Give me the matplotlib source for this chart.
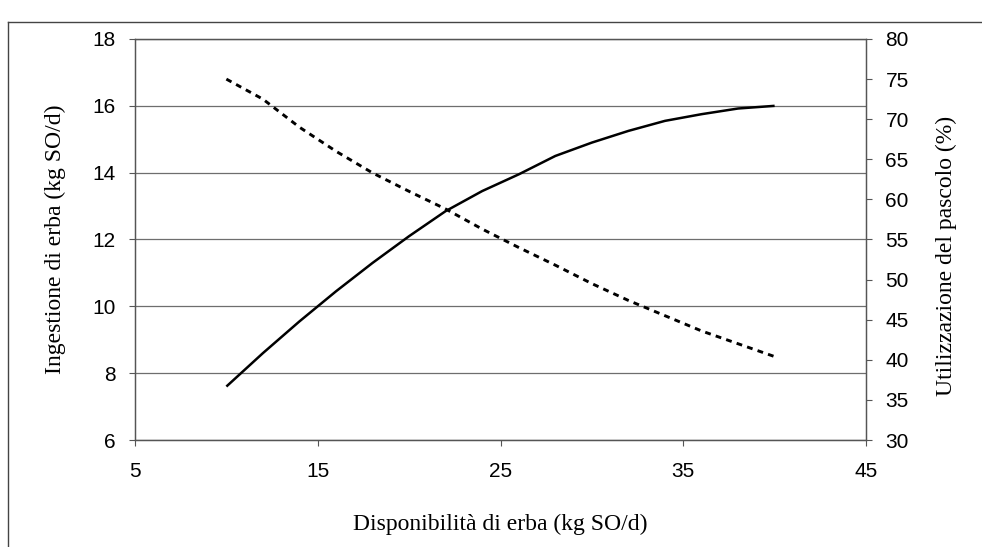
import matplotlib
matplotlib.use("Agg")
import matplotlib.pyplot as plt
from matplotlib.lines import Line2D

# Disponibilità di erba (kg SO/d)
disponibilita = [10, 12, 14, 16, 18, 20, 22, 24, 26, 28, 30, 32, 34, 36, 38, 40]
# Ingestione di erba (kg SO/d) - asse sinistro
ingestione = [7.6, 8.6, 9.55, 10.45, 11.3, 12.1, 12.85, 13.45, 13.95, 14.5,
              14.9, 15.25, 15.55, 15.75, 15.92, 16.0]
# Utilizzazione del pascolo (%) - asse destro
utilizzazione = [75.0, 72.5, 69.0, 66.0, 63.3, 61.0, 58.8, 56.3, 54.0, 51.8,
                 49.5, 47.4, 45.5, 43.6, 42.0, 40.4]

x_ticks = [5, 15, 25, 35, 45]
y_left_ticks = [6, 8, 10, 12, 14, 16, 18]
y_right_ticks = [30, 35, 40, 45, 50, 55, 60, 65, 70, 75, 80]

plt.rcParams["font.family"] = ["Liberation Sans", "DejaVu Sans"]
LABEL_FONT = ["Liberation Serif", "DejaVu Serif"]

fig = plt.figure(figsize=(9.82, 5.47), dpi=100)
ax = fig.add_axes([135 / 982, 1 - 440 / 547, 731 / 982, 401 / 547])
ax2 = ax.twinx()

# griglia orizzontale (asse sinistro)
ax.yaxis.grid(True, color="#6e6e6e", linewidth=0.9)
ax.set_axisbelow(True)

ax.plot(disponibilita, ingestione, color="black", linewidth=1.8,
        solid_capstyle="butt")
ax2.plot(disponibilita, utilizzazione, color="black", linewidth=2.1,
         linestyle=(0, (2.0, 1.8)), dash_capstyle="butt")

ax.set_xlim(5, 45)
ax.set_ylim(6, 18)
ax2.set_ylim(30, 80)
ax.set_xticks(x_ticks)
ax.set_yticks(y_left_ticks)
ax2.set_yticks(y_right_ticks)

for a in (ax, ax2):
    for s in a.spines.values():
        s.set_color("#555555")
        s.set_linewidth(0.9)
    a.tick_params(direction="out", length=4, width=0.8, color="#555555",
                  labelsize=15)

ax.tick_params(axis="x", pad=12)
ax.tick_params(axis="y", pad=10)
ax2.tick_params(axis="y", pad=10)

ax.set_xlabel("Disponibilità di erba (kg SO/d)", fontsize=17,
              family=LABEL_FONT)
ax.set_ylabel("Ingestione di erba (kg SO/d)", fontsize=17,
              family=LABEL_FONT)
ax2.set_ylabel("Utilizzazione del pascolo (%)", fontsize=17,
               family=LABEL_FONT, rotation=90)
ax.xaxis.label.set_va("baseline")
ax.yaxis.label.set_va("center")
ax2.yaxis.label.set_va("center")
ax.xaxis.set_label_coords(0.5, -(530 - 440) / 401)
ax.yaxis.set_label_coords(-(135 - 55) / 731, 0.5)
ax2.yaxis.set_label_coords((946 - 135) / 731, 0.46)

# cornice esterna
fig.add_artist(Line2D([7.5 / 982, 7.5 / 982], [0, 1 - 22 / 547],
                      color="#444444", linewidth=1.0))
fig.add_artist(Line2D([7.5 / 982, 1], [1 - 22 / 547, 1 - 22 / 547],
                      color="#444444", linewidth=1.0))

fig.savefig("out.png", dpi=100, facecolor="white")
